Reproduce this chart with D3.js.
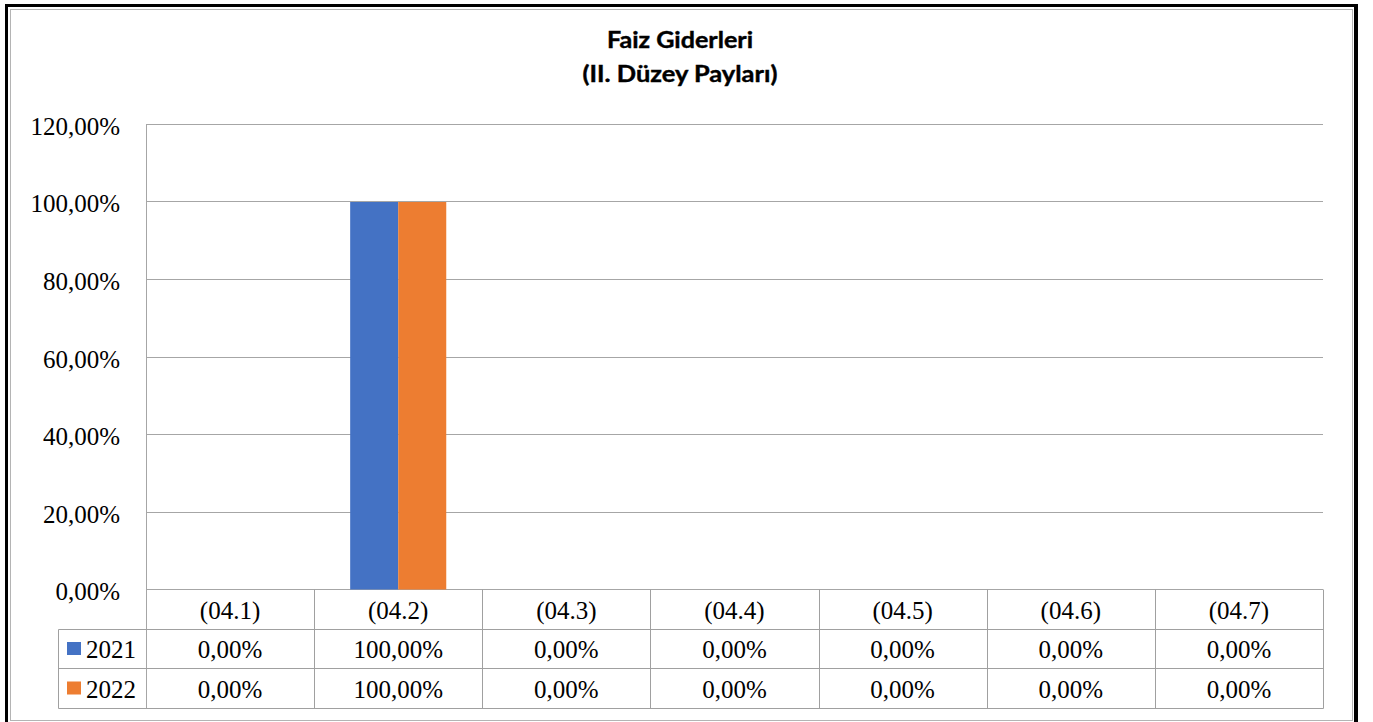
<!DOCTYPE html>
<html><head><meta charset="utf-8">
<script src="https://cdn.jsdelivr.net/npm/d3@7"></script>
<style>body{margin:0;background:#fff;overflow:hidden}</style>
</head><body><svg id="c" width="1373" height="722"></svg>
<script>
const categories = ["(04.1)","(04.2)","(04.3)","(04.4)","(04.5)","(04.6)","(04.7)"];
const seriesNames = ["2021","2022"];
const values2021 = [0,100,0,0,0,0,0];
const values2022 = [0,100,0,0,0,0,0];
const yTicks = [0,20,40,60,80,100,120];
const titleLines = ["Faiz Giderleri","(II. Düzey Payları)"];
const seriesColors = ["#4472C4","#ED7D31"];

const series = [values2021, values2022];
const svg = d3.select("#c");
const W = 1373, H = 722;
const plotL = 146, plotR = 1323, plotT = 124.5, plotB = 589.5;
const rowH = [589.5, 629.5, 668.5, 708.5];
const legendL = 58.5;
const lineCol = "#a6a6a6";
const tableCol = "#a0a0a0";
const serif = "'Liberation Serif','Times New Roman',serif";

const loc = d3.formatLocale({decimal:",", thousands:".", grouping:[3], currency:["",""]});
const fmt = v => loc.format(".2f")(v) + "%";

// frame
svg.append("rect").attr("x",0).attr("y",0).attr("width",W).attr("height",H).attr("fill","#fff");
svg.append("rect").attr("x",6.5).attr("y",5.5).attr("width",1349).attr("height",730)
  .attr("fill","none").attr("stroke","#000").attr("stroke-width",3);
svg.append("line").attr("x1",1357).attr("x2",1357).attr("y1",4).attr("y2",H)
  .attr("stroke","#000").attr("stroke-width",2);
svg.append("rect").attr("x",10.5).attr("y",9.5).attr("width",1342).attr("height",711)
  .attr("fill","none").attr("stroke","#b4b4b4").attr("stroke-width",1);

const x = d3.scaleBand().domain(categories).range([plotL, plotR]).paddingInner(0).paddingOuter(0);
const x1 = d3.scaleBand().domain(seriesNames).range([0, x.bandwidth()]).paddingInner(0).paddingOuter(0.75);
const y = d3.scaleLinear().domain([0,120]).range([plotB, plotT]);

// gridlines + labels
const yAxis = d3.axisLeft(y).tickValues(yTicks).tickFormat(fmt)
  .tickSize(-(plotR - plotL)).tickPadding(26);
const gy = svg.append("g").attr("transform",`translate(${plotL},0)`).call(yAxis);
gy.select(".domain").remove();
gy.selectAll(".tick line").attr("stroke",lineCol).attr("stroke-width",1);
gy.selectAll(".tick text").attr("font-family",serif).attr("font-size",25)
  .attr("fill","#000").attr("dy","0.42em").attr("x",-26);
gy.selectAll(".tick").attr("transform", d => `translate(0,${Math.round(y(d)-0.5)+0.5})`);

// bars
const bars = svg.append("g");
categories.forEach((c,i) => {
  seriesNames.forEach((s,j) => {
    const v = series[j][i];
    if (v > 0) {
      bars.append("rect")
        .attr("x", x(c) + x1(s))
        .attr("y", y(v))
        .attr("width", x1.bandwidth())
        .attr("height", y(0) - y(v))
        .attr("fill", seriesColors[j]);
    }
  });
});

// axis vertical line
svg.append("line").attr("x1",plotL+0.5).attr("x2",plotL+0.5).attr("y1",plotT).attr("y2",rowH[3])
  .attr("stroke",lineCol);

// data table
const tg = svg.append("g");
[rowH[1], rowH[2], rowH[3]].forEach(yy => {
  tg.append("line").attr("x1",legendL).attr("x2",plotR+0.5).attr("y1",yy).attr("y2",yy)
    .attr("stroke",tableCol);
});
tg.append("line").attr("x1",legendL).attr("x2",legendL).attr("y1",rowH[1]).attr("y2",rowH[3]).attr("stroke",tableCol);
categories.forEach((c,i) => {
  const xx = Math.round(x(c) + x.bandwidth()) + 0.5;
  tg.append("line").attr("x1",xx).attr("x2",xx).attr("y1",rowH[0]).attr("y2",rowH[3]).attr("stroke",tableCol);
});
categories.forEach(c => {
  tg.append("text").attr("x", x(c) + x.bandwidth()/2).attr("y",(rowH[0]+rowH[1])/2)
    .attr("dy","0.36em").attr("text-anchor","middle")
    .attr("font-family",serif).attr("font-size",25).attr("fill","#000").text(c);
});
seriesNames.forEach((s,j) => {
  const yc = (rowH[j+1] + rowH[j+2]) / 2;
  tg.append("rect").attr("x",67).attr("y",yc-7).attr("width",14).attr("height",13).attr("fill",seriesColors[j]);
  tg.append("text").attr("x",86).attr("y",yc).attr("dy","0.36em")
    .attr("font-family",serif).attr("font-size",25).attr("fill","#000").text(s);
  categories.forEach((c,i) => {
    tg.append("text").attr("x", x(c) + x.bandwidth()/2).attr("y", yc).attr("dy","0.36em")
      .attr("text-anchor","middle").attr("font-family",serif).attr("font-size",25).attr("fill","#000")
      .text(fmt(series[j][i]));
  });
});

// title
const titleWidths = [146, 195];
svg.append("g").selectAll("text").data(titleLines).join("text")
  .attr("x", 680).attr("y",(d,i) => i === 0 ? 48 : 82)
  .attr("text-anchor","middle").attr("font-family","Lato, 'DejaVu Sans', sans-serif")
  .attr("font-weight",700).attr("font-size",22).attr("fill","#000")
  .attr("textLength",(d,i) => titleWidths[i]).attr("lengthAdjust","spacingAndGlyphs")
  .attr("stroke","#000").attr("stroke-width",0.4)
  .text(d => d);
</script></body></html>
